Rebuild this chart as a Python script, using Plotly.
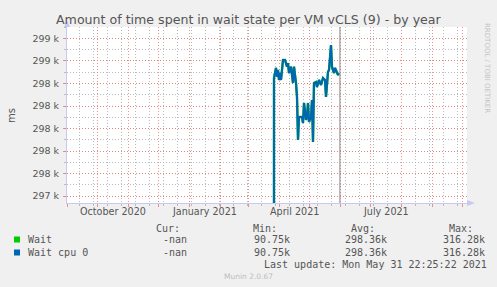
import plotly.graph_objects as go

# ---------------- data ----------------
dates = [
    "2021-03-26", "2021-03-27", "2021-03-29", "2021-03-30", "2021-03-31",
    "2021-04-01", "2021-04-02", "2021-04-03", "2021-04-05", "2021-04-07",
    "2021-04-09", "2021-04-10", "2021-04-11", "2021-04-13", "2021-04-15",
    "2021-04-16", "2021-04-18", "2021-04-19", "2021-04-20", "2021-04-21",
    "2021-04-24", "2021-04-25", "2021-04-26", "2021-04-28", "2021-04-29",
    "2021-04-30", "2021-05-01", "2021-05-03", "2021-05-04", "2021-05-05",
    "2021-05-06", "2021-05-08", "2021-05-09", "2021-05-11", "2021-05-13",
    "2021-05-15", "2021-05-17", "2021-05-18", "2021-05-20", "2021-05-21",
    "2021-05-23", "2021-05-24", "2021-05-26", "2021-05-27", "2021-05-30",
    "2021-05-31",
]
wait = [
    90750, 298450, 298538, 298460, 298520,
    298431, 298493, 298431, 298609, 298609,
    298549, 298582, 298493, 298549, 298404,
    298549, 298404, 298280, 297898, 298102,
    298102, 298049, 298227, 298076, 298102,
    298227, 298058, 298102, 298253, 297880,
    298404, 298413, 298369, 298431, 298387,
    298449, 298431, 298280, 298502, 298520,
    298742, 298547, 298493, 298538, 298476,
    298493,
]
wait_cpu0 = list(wait)

series_names = ["Wait", "Wait cpu 0"]
series_colors = ["#00CC00", "#0066B3"]
legend_cur = ["-nan", "-nan"]
legend_min = ["90.75k", "90.75k"]
legend_avg = ["298.36k", "298.36k"]
legend_max = ["316.28k", "316.28k"]

y_tickvals = [297400, 297600, 297800, 298000, 298200, 298400, 298600, 298800]
y_ticktext = ["297 k", "298 k", "298 k", "298 k", "298 k", "298 k", "299 k", "299 k"]
x_label_dates = ["2020-10-16 12:00", "2021-01-16 12:00", "2021-04-16 12:00", "2021-07-16 12:00"]
x_label_text = ["October 2020", "January 2021", "April 2021", "July 2021"]

title = "Amount of time spent in wait state per VM vCLS (9) - by year"
last_update = "Last update: Mon May 31 22:25:22 2021"
now_marker = "2021-05-31 22:25:22"

# ---------------- layout geometry ----------------
W, H = 497, 287
L, R, T, B = 67, 467, 27, 203


def px(x):
    return (x - L) / (R - L)


def py(y):
    return (B - y) / (B - T)


BG = "#F0F0F0"
TXT = "#555555"
MONO = "DejaVu Sans Mono"
SANS = "DejaVu Sans"
RED = "rgba(232,118,118,0.8)"
GRAY = "rgba(180,180,180,0.9)"
AXIS = "#c8c8f4"
DASH = "1px,2px"

fig = go.Figure()
fig.add_trace(go.Scatter(x=dates, y=wait, mode="lines", name=series_names[0],
                         line=dict(color=series_colors[0], width=2.4),
                         showlegend=False, hoverinfo="skip"))
fig.add_trace(go.Scatter(x=dates, y=wait_cpu0, mode="lines", name=series_names[1],
                         line=dict(color=series_colors[1], width=2.1),
                         showlegend=False, hoverinfo="skip"))

fig.update_layout(
    width=W, height=H,
    margin=dict(l=L, r=W - R, t=T, b=H - B, pad=0),
    paper_bgcolor=BG, plot_bgcolor="white",
    showlegend=False,
    font=dict(family=SANS, color=TXT),
    xaxis=dict(
        type="date", range=["2020-09-01", "2021-10-06"],
        tickmode="linear", tick0="2020-09-01", dtick="M1",
        showticklabels=False, ticks="outside", ticklen=3, tickcolor=RED,
        showgrid=True, gridcolor=RED, griddash=DASH, gridwidth=1,
        minor=dict(tick0="2020-09-13", dtick=14 * 86400000, showgrid=True,
                   gridcolor=GRAY, griddash=DASH, gridwidth=1,
                   ticks="outside", ticklen=2, tickcolor=GRAY),
        showline=True, linecolor=AXIS, linewidth=1, zeroline=False,
        fixedrange=True,
    ),
    yaxis=dict(
        range=[297338, 298902],
        tickmode="array", tickvals=y_tickvals, ticktext=y_ticktext,
        ticks="outside", ticklen=3, tickcolor=RED,
        tickfont=dict(family=SANS, size=9.5, color=TXT),
        showgrid=True, gridcolor=RED, griddash=DASH, gridwidth=1,
        minor=dict(tick0=297300, dtick=100, showgrid=True,
                   gridcolor=GRAY, griddash=DASH, gridwidth=1,
                   ticks="outside", ticklen=2, tickcolor=GRAY),
        showline=True, linecolor=AXIS, linewidth=1, zeroline=False,
        ticklabelstandoff=2,
        fixedrange=True,
    ),
)

shapes = []
# "now" rule
shapes.append(dict(type="line", xref="x", yref="paper", x0=now_marker, x1=now_marker,
                   y0=0, y1=1, line=dict(color="#888888", width=1)))
# axis arrows
shapes.append(dict(type="path", xref="paper", yref="paper",
                   path=f"M {px(R)} {py(B-3)} L {px(R+8)} {py(B)} L {px(R)} {py(B+3)} Z",
                   fillcolor=AXIS, line=dict(width=0)))
shapes.append(dict(type="line", xref="paper", yref="paper", x0=px(R), x1=px(R+3),
                   y0=py(B), y1=py(B), line=dict(color=AXIS, width=1)))
shapes.append(dict(type="path", xref="paper", yref="paper",
                   path=f"M {px(L-3)} {py(T)} L {px(L)} {py(T-7)} L {px(L+3)} {py(T)} Z",
                   fillcolor=AXIS, line=dict(width=0)))
# legend colour boxes
for i, c in enumerate(series_colors):
    yc = 239.5 + i * 13
    shapes.append(dict(type="rect", xref="paper", yref="paper",
                       x0=px(14), x1=px(20), y0=py(yc + 3), y1=py(yc - 3),
                       fillcolor=c, line=dict(width=0)))
fig.update_layout(shapes=shapes)

ann = []


def text(x, y, s, size=10, family=MONO, color=TXT, xanchor="left", angle=0, xref="paper"):
    ann.append(dict(x=x if xref == "x" else px(x), y=py(y), xref=xref, yref="paper",
                    text=s, showarrow=False, xanchor=xanchor, yanchor="middle",
                    textangle=angle, font=dict(family=family, size=size, color=color)))


text(248.5, 19, title, size=12.6, family=SANS, xanchor="center")
text(11, 115, "ms", size=10, family=SANS, xanchor="center", angle=-90)
text(487, 68, "RRDTOOL / TOBI OETIKER", size=7, family=SANS, color="#c4c4c4",
     xanchor="center", angle=90)
for d, s in zip(x_label_dates, x_label_text):
    text(d, 212, s, size=9.6, family=SANS, xanchor="center", xref="x")

text(154, 228, "Cur:")
text(251, 228, "Min:")
text(349, 228, "Avg:")
text(447, 228, "Max:")
for i in range(2):
    yc = 239.5 + i * 13
    text(26, yc, series_names[i])
    text(161, yc, legend_cur[i])
    text(252, yc, legend_min[i])
    text(343, yc, legend_avg[i])
    text(441, yc, legend_max[i])
text(262, 264, last_update)
text(248, 276, "Munin 2.0.67", size=7.5, family=SANS, color="#bdbdbd", xanchor="center")

fig.update_layout(annotations=ann)
fig.write_html("out.html")
